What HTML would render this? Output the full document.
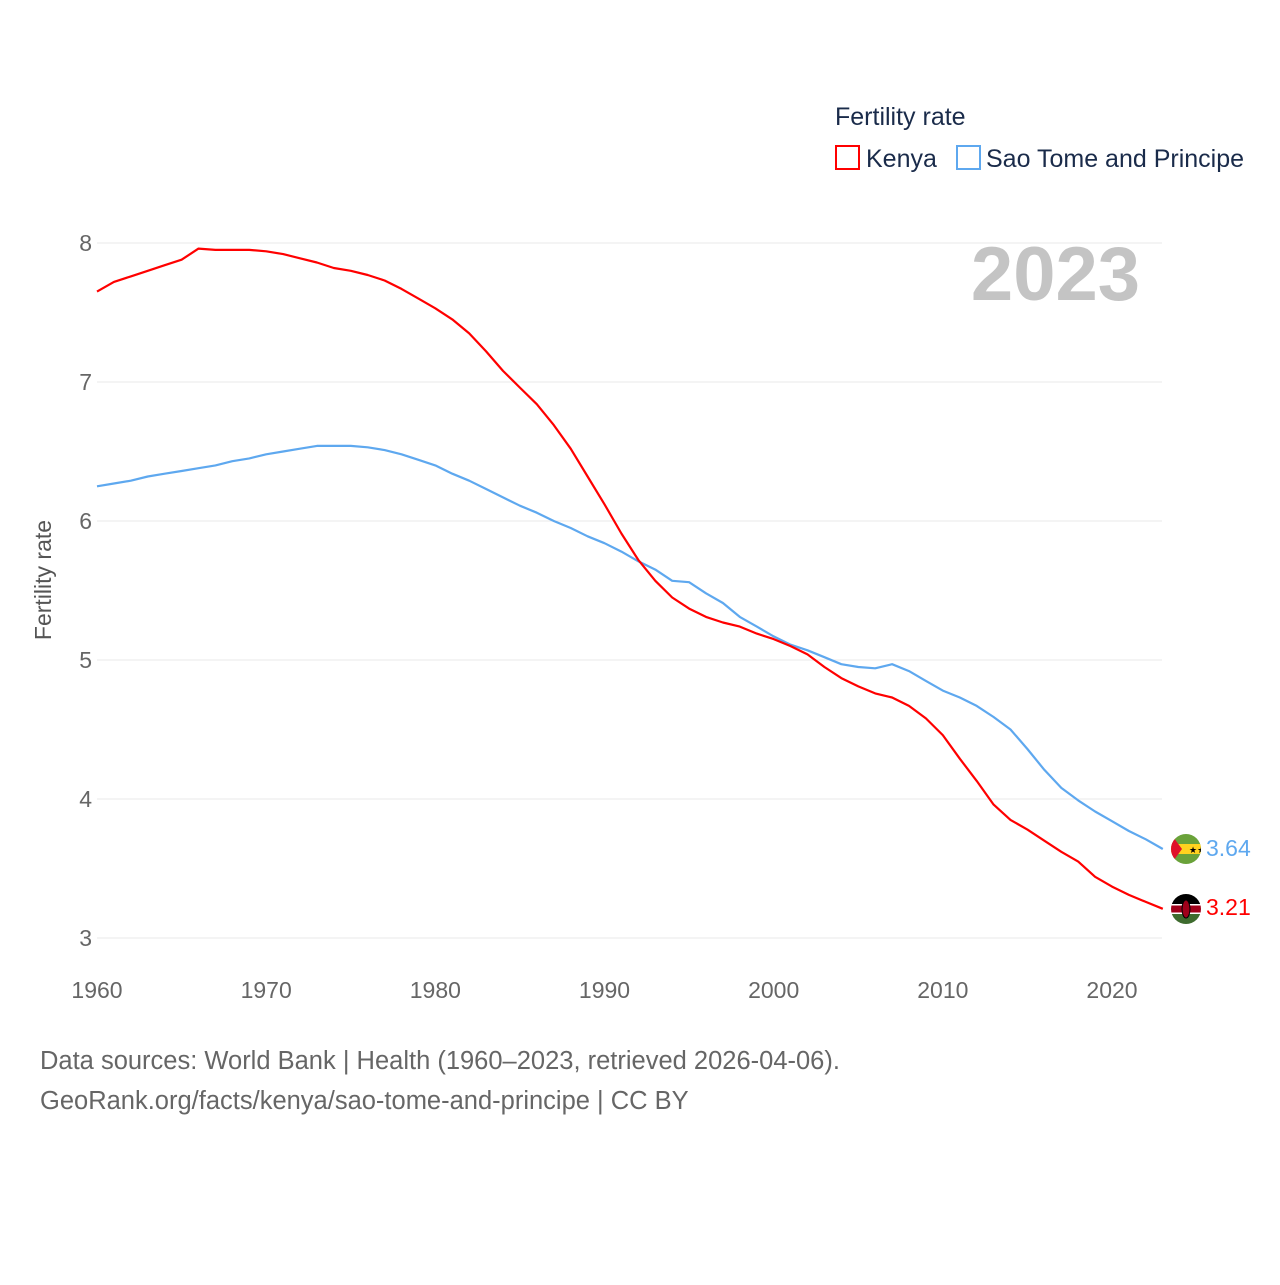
<!DOCTYPE html>
<html><head><meta charset="utf-8">
<style>
body{margin:0;background:#fff;font-family:"Liberation Sans",sans-serif;}
</style></head>
<body>
<svg id="chart" width="1280" height="1280" xmlns="http://www.w3.org/2000/svg" font-family="Liberation Sans, sans-serif">
  <text x="835" y="125" font-size="25" fill="#1a2b4a">Fertility rate</text>
  <g>
    <rect x="836" y="146" width="23" height="23" fill="none" stroke="#ff0000" stroke-width="2"/>
    <text x="866" y="167" font-size="25" fill="#1a2b4a">Kenya</text>
  </g>
  <g>
    <rect x="957" y="146" width="23" height="23" fill="none" stroke="#5ea8ef" stroke-width="2"/>
    <text x="986" y="167" font-size="25" fill="#1a2b4a">Sao Tome and Principe</text>
  </g>
  <text x="1140" y="300" font-size="76" font-weight="bold" fill="#c4c4c4" text-anchor="end">2023</text>
  <text transform="translate(51,580) rotate(-90)" font-size="23" fill="#555" text-anchor="middle">Fertility rate</text>
  <g id="grid"></g><g id="yticks"></g><g id="xticks"></g><g id="lines"></g>
  <g transform="translate(1186,849)">
    <clipPath id="c1"><circle r="15"/></clipPath>
    <g clip-path="url(#c1)">
      <rect x="-15" y="-15" width="30" height="30" fill="#6aa23a"/>
      <rect x="-15" y="-5" width="30" height="10" fill="#ffd21f"/>
      <polygon points="-15,-15 -4,0 -15,15" fill="#e0102a"/>
      <text x="3" y="4" font-size="9" fill="#000">★★</text>
    </g>
  </g>
  <g transform="translate(1186,909)">
    <clipPath id="c2"><circle r="15"/></clipPath>
    <g clip-path="url(#c2)">
      <rect x="-15" y="-15" width="30" height="10" fill="#000"/>
      <rect x="-15" y="-5" width="30" height="10" fill="#fff"/>
      <rect x="-15" y="-3.5" width="30" height="7" fill="#a0001a"/>
      <rect x="-15" y="5" width="30" height="10" fill="#3e6b2e"/>
      <ellipse cx="0" cy="0" rx="4" ry="9" fill="#a0001a" stroke="#000" stroke-width="1"/>
    </g>
  </g>
  <text x="1206" y="856" font-size="23" fill="#5ea8ef">3.64</text>
  <text x="1206" y="915" font-size="23" fill="#ff0000">3.21</text>
  <text x="40" y="1069" font-size="25.5" fill="#666">Data sources: World Bank | Health (1960–2023, retrieved 2026-04-06).</text>
  <text x="40" y="1109" font-size="25.5" fill="#666">GeoRank.org/facts/kenya/sao-tome-and-principe | CC BY</text>
</svg>
<script>
const years = [];
for (let y = 1960; y <= 2023; y++) years.push(y);
const kenya = [7.65,7.72,7.76,7.80,7.84,7.88,7.96,7.95,7.95,7.95,7.94,7.92,7.89,7.86,7.82,7.80,7.77,7.73,7.67,7.60,7.53,7.45,7.35,7.22,7.08,6.96,6.84,6.69,6.52,6.32,6.12,5.91,5.72,5.57,5.45,5.37,5.31,5.27,5.24,5.19,5.15,5.10,5.04,4.95,4.87,4.81,4.76,4.73,4.67,4.58,4.46,4.29,4.13,3.96,3.85,3.78,3.70,3.62,3.55,3.44,3.37,3.31,3.26,3.21];
const saoTome = [6.25,6.27,6.29,6.32,6.34,6.36,6.38,6.40,6.43,6.45,6.48,6.50,6.52,6.54,6.54,6.54,6.53,6.51,6.48,6.44,6.40,6.34,6.29,6.23,6.17,6.11,6.06,6.00,5.95,5.89,5.84,5.78,5.71,5.65,5.57,5.56,5.48,5.41,5.31,5.24,5.17,5.11,5.07,5.02,4.97,4.95,4.94,4.97,4.92,4.85,4.78,4.73,4.67,4.59,4.50,4.36,4.21,4.08,3.99,3.91,3.84,3.77,3.71,3.64];
const yTicks = [3,4,5,6,7,8];
const xTicks = [1960,1970,1980,1990,2000,2010,2020];

const NS = "http://www.w3.org/2000/svg";
const xs = yr => 97 + (yr - 1960) * (1015 / 60);
const ys = v => 938 - (v - 3) * 139;
function mk(tag, attrs, parent) {
  const e = document.createElementNS(NS, tag);
  for (const k in attrs) e.setAttribute(k, attrs[k]);
  document.getElementById(parent).appendChild(e);
  return e;
}
yTicks.forEach(t => {
  const g = mk("line", {x1: 97, x2: 1162, y1: ys(t), y2: ys(t), stroke: "#e8e8e8", "stroke-width": 1}, "grid");
  
  
  const l = mk("text", {x: 92, y: ys(t) + 8, "font-size": 23, fill: "#666", "text-anchor": "end"}, "yticks");
  
  
  l.textContent = t;
});
xTicks.forEach(t => {
  const l = mk("text", {x: xs(t), y: 998, "font-size": 23, fill: "#666", "text-anchor": "middle"}, "xticks");
  
  
  l.textContent = t;
});
function line(vals, color, name) {
  const d = vals.map((v, i) => (i ? "L" : "M") + xs(years[i]).toFixed(1) + "," + ys(v).toFixed(1)).join("");
  const p = mk("path", {d: d, fill: "none", stroke: color, "stroke-width": 2.2, "stroke-linejoin": "round"}, "lines");
  
  
}
line(saoTome, "#5ea8ef", "line-sao-tome");
line(kenya, "#ff0000", "line-kenya");
</script>
</body></html>
